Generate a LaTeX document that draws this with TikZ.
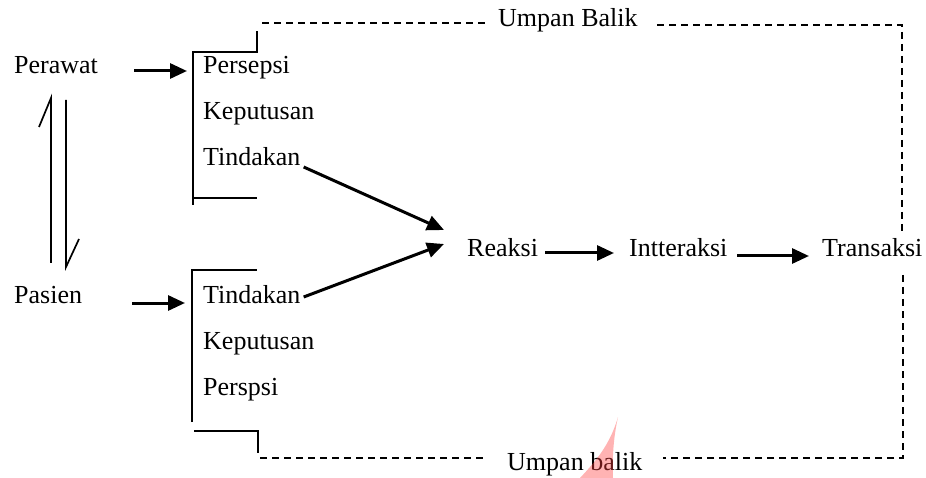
\documentclass[tikz,border=0pt]{standalone}
\usepackage{fontspec}
\setmainfont{Liberation Serif}
\usetikzlibrary{arrows.meta,calc}
\begin{document}
\begin{tikzpicture}[x=1pt,y=-1pt,
  lbl/.style={inner sep=0pt,anchor=base west,font=\fontsize{26}{31}\selectfont},
  arr/.style={line width=3pt,-{Triangle[length=17pt,width=15pt]}},
  brk/.style={line width=1.8pt},
  fb/.style={line width=1.6pt,dash pattern=on 7pt off 5pt},
  harp/.style={line width=1.7pt}]
\useasboundingbox (0,0) rectangle (926,478);
% texts
\node[lbl] (perawat) at (14,74) {Perawat};
\node[lbl] (pasien) at (14,303) {Pasien};
\node[lbl] (persepsi) at (203,74) {Persepsi};
\node[lbl] (keputusan1) at (203,120) {Keputusan};
\node[lbl] (tindakan1) at (203,166) {Tindakan};
\node[lbl] (tindakan2) at (203,303) {Tindakan};
\node[lbl] (keputusan2) at (203,349) {Keputusan};
\node[lbl] (perspsi) at (203,395) {Perspsi};
\node[lbl] (reaksi) at (467,257) {Reaksi};
\node[lbl] (interaksi) at (629,257) {Intteraksi};
\node[lbl] (transaksi) at (822,257) {Transaksi};
\node[lbl] (ubtop) at (498,27) {Umpan Balik};
\node[lbl] (ubbot) at (507,470) {Umpan balik};
% coordinates
\coordinate (pa1) at (134,71);
\coordinate (pa2) at (187,71);
\coordinate (pb1) at (132,303);
\coordinate (pb2) at (185,303);
\coordinate (r1) at (444,230);
\coordinate (r2) at (444,244);
\coordinate (ra) at (545,253);
\coordinate (rb) at (614,253);
\coordinate (ia) at (737,256);
\coordinate (ib) at (809,256);
% arrows
\draw[arr] (tindakan1.base east) ++(3,1) -- (r1);
\draw[arr] (tindakan2.base east) ++(3,-6) -- (r2);
\draw[arr] (pa1) -- (pa2);
\draw[arr] (pb1) -- (pb2);
\draw[arr] (ra) -- (rb);
\draw[arr] (ia) -- (ib);
% harpoons between Perawat and Pasien
\coordinate (h1b) at (51,263);
\coordinate (h1t) at (51,98);
\coordinate (h2t) at (66,100);
\coordinate (h2b) at (66,267);
\draw[harp] (h1b) -- (h1t) -- ++(-12,29);
\draw[harp] (h2t) -- (h2b) -- ++(13,-28);
% top bracket
\draw[brk] (193,205) -- (193,52) -- (257,52) -- (257,31);
\draw[brk] (193,198) -- (257,198);
% bottom bracket
\draw[brk] (192,422) -- (192,270) -- (257,270);
\draw[brk] (194,431) -- (258,431) -- (258,453);
% feedback dashed lines
\draw[fb] (262,23) -- (487,23);
\draw[fb] (657,25) -- (902,25) -- (902,235);
\draw[fb] (903,275) -- (903,458) -- (663,458);
\draw[fb] (260,458) -- (483,458);
% watermark
\fill[red!75!white,opacity=0.4] (618,417) .. controls (610,445) and (595,462) .. (580,478) -- (613,478) .. controls (612,455) and (614,435) .. cycle;
\end{tikzpicture}
\end{document}
